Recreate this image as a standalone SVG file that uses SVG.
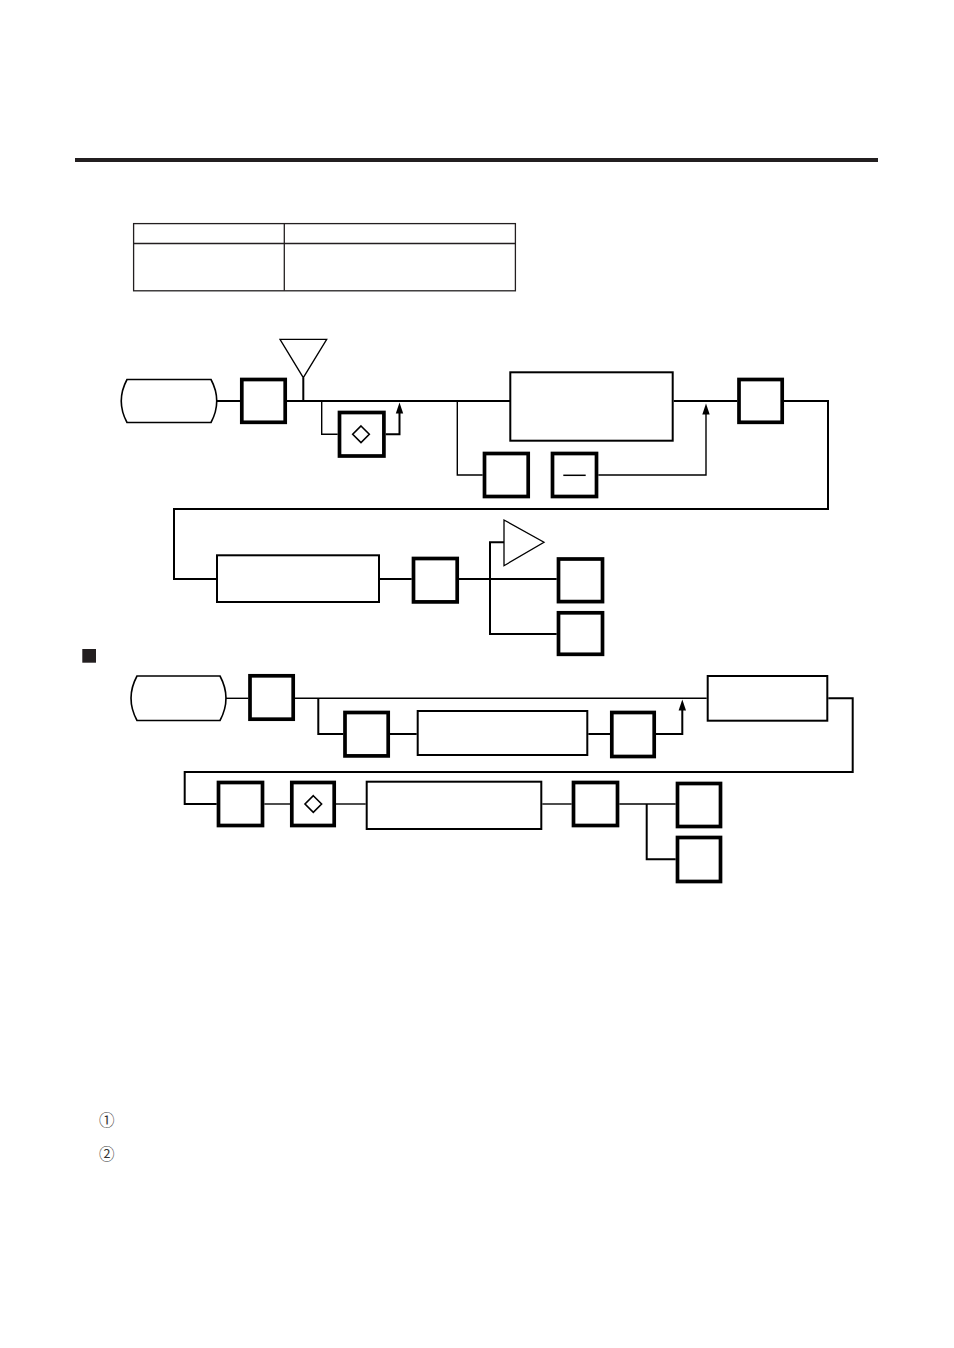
<svg xmlns="http://www.w3.org/2000/svg" width="954" height="1348" viewBox="0 0 954 1348">
<style>
.bx{fill:#fff;stroke:#000;stroke-width:3.7}
.rc{fill:#fff;stroke:#000;stroke-width:2}
.pl{fill:#fff;stroke:#000;stroke-width:1.6}
.tri{fill:#fff;stroke:#000;stroke-width:1.3}
.dm{fill:none;stroke:#000;stroke-width:1.6}
.c1{fill:none;stroke:#000;stroke-width:2}
.c2{fill:none;stroke:#000;stroke-width:1.4}
.ah{fill:#000}
.num{font-family:"Noto Sans CJK JP",sans-serif;font-size:15.5px;fill:#333}
</style>
<rect x="75" y="158" width="803" height="4" fill="#231f20"/>
<g id="table" fill="none" stroke="#231f20" stroke-width="1.3">
<rect x="133.6" y="223.6" width="381.8" height="67.2"/>
<line x1="133.6" y1="243.5" x2="515.4" y2="243.5"/>
<line x1="284.3" y1="223.6" x2="284.3" y2="290.8"/>
</g>
<g id="connectors">
<path class="c1" d="M216.7,401 H240"/>
<path class="c1" d="M287,401 H510"/>
<path class="c1" d="M303.3,377.7 V401"/>
<path class="c2" d="M321.7,401 V434.3 H337.7"/>
<path class="c1" d="M385.7,434.3 H399.5 V412"/>
<polygon class="ah" points="399.5,402.5 395.8,413.5 403.2,413.5"/>
<path class="c2" d="M457.3,401 V475 H482.7"/>
<path class="c2" d="M598.3,475 H706 V413"/>
<polygon class="ah" points="706,403.5 702.3,414.5 709.7,414.5"/>
<path class="c1" d="M673.7,401 H737.3"/>
<path class="c1" d="M784,401 H828 V509 H174 V579 H216"/>
<path class="c1" d="M380,579 H411.7"/>
<path class="c1" d="M459,579 H556.7"/>
<path class="c1" d="M504,542.3 H490 V634 H556.7"/>
<path class="c2" d="M226,698.3 H248.3"/>
<path class="c2" d="M295,698.3 H706.7"/>
<path class="c1" d="M318.3,698.3 V734 H343.3"/>
<path class="c1" d="M390,734 H416.7"/>
<path class="c1" d="M588.3,734 H610"/>
<path class="c1" d="M656,734 H682.3 V709"/>
<polygon class="ah" points="682.3,699.5 678.6,710.5 686,710.5"/>
<path class="c1" d="M828.3,698.3 H852.7 V772 H184.7 V804 H216.7" stroke="#231f20"/>
<path class="c2" d="M264.3,804 H290"/>
<path class="c2" d="M336,804 H365.7"/>
<path class="c2" d="M542.3,804 H571.7"/>
<path class="c2" d="M619.3,804 H675.7"/>
<path class="c1" d="M646.7,804 V859.3 H675.7"/>
</g>
<g id="d1-start"><path class="pl" d="M127,379.5 H211 Q222.5,401 211,422.5 H127 Q115.5,401 127,379.5 Z"/></g>
<g id="d1-box1"><rect class="bx" x="241.8" y="379.5" width="43.4" height="42.8"/></g>
<g id="d1-tri-down"><polygon class="tri" points="280,339.3 326.7,339.3 303.3,377.7"/></g>
<g id="d1-diamond-box"><rect class="bx" x="339.5" y="412.5" width="44.4" height="43.5"/><polygon class="dm" points="361,426 369.3,434.3 361,442.6 352.7,434.3"/></g>
<g id="d1-box3"><rect class="bx" x="484.5" y="453.5" width="43.7" height="43"/></g>
<g id="d1-minus-box"><rect class="bx" x="552.5" y="453.5" width="44" height="43"/><line x1="563.3" y1="475.3" x2="585.7" y2="475.3" stroke="#000" stroke-width="1.5"/></g>
<g id="d1-rect1"><rect class="rc" x="510.3" y="372.3" width="162.4" height="68.4"/></g>
<g id="d1-box5"><rect class="bx" x="739" y="379.5" width="43.2" height="42.8"/></g>
<g id="d1-rect2"><rect class="rc" x="217" y="555.3" width="162" height="46.7"/></g>
<g id="d1-box6"><rect class="bx" x="413.5" y="558.5" width="43.7" height="43.4"/></g>
<g id="d1-tri-right"><polygon class="tri" points="504,520 504,565.7 544,542.3"/></g>
<g id="d1-box7"><rect class="bx" x="558.5" y="559" width="44" height="42.6"/></g>
<g id="d1-box8"><rect class="bx" x="558.5" y="612.8" width="44" height="41.5"/></g>
<rect id="bullet" x="82.3" y="649" width="13.7" height="13.7" fill="#231f20"/>
<g id="d2-start"><path class="pl" d="M137,676 H220 Q232,698.3 220,720.5 H137 Q125,698.3 137,676 Z"/></g>
<g id="d2-box1"><rect class="bx" x="250" y="675.8" width="43.2" height="43.4"/></g>
<g id="d2-box2"><rect class="bx" x="345" y="712.5" width="43.2" height="43.4"/></g>
<g id="d2-rect1"><rect class="rc" x="417.7" y="711" width="169.6" height="44"/></g>
<g id="d2-box3"><rect class="bx" x="611.8" y="712.5" width="42.4" height="44"/></g>
<g id="d2-rect2"><rect class="rc" x="707.7" y="676" width="119.6" height="44.7"/></g>
<g id="d2-box4"><rect class="bx" x="218.5" y="782.5" width="44" height="43"/></g>
<g id="d2-diamond-box"><rect class="bx" x="291.8" y="782.5" width="42.4" height="43"/><polygon class="dm" points="313.3,795.7 321.6,804 313.3,812.3 305,804"/></g>
<g id="d2-rect3"><rect class="rc" x="366.7" y="781.7" width="174.6" height="47.3"/></g>
<g id="d2-box5"><rect class="bx" x="573.5" y="782.5" width="44" height="43"/></g>
<g id="d2-box6"><rect class="bx" x="677.5" y="783.5" width="43" height="43"/></g>
<g id="d2-box7"><rect class="bx" x="677.5" y="837.5" width="43" height="44"/></g>
<g id="notes">
<text class="num" x="106.7" y="1118.5" text-anchor="middle" dominant-baseline="central">①</text>
<text class="num" x="106.7" y="1153" text-anchor="middle" dominant-baseline="central">②</text>
</g>
</svg>
